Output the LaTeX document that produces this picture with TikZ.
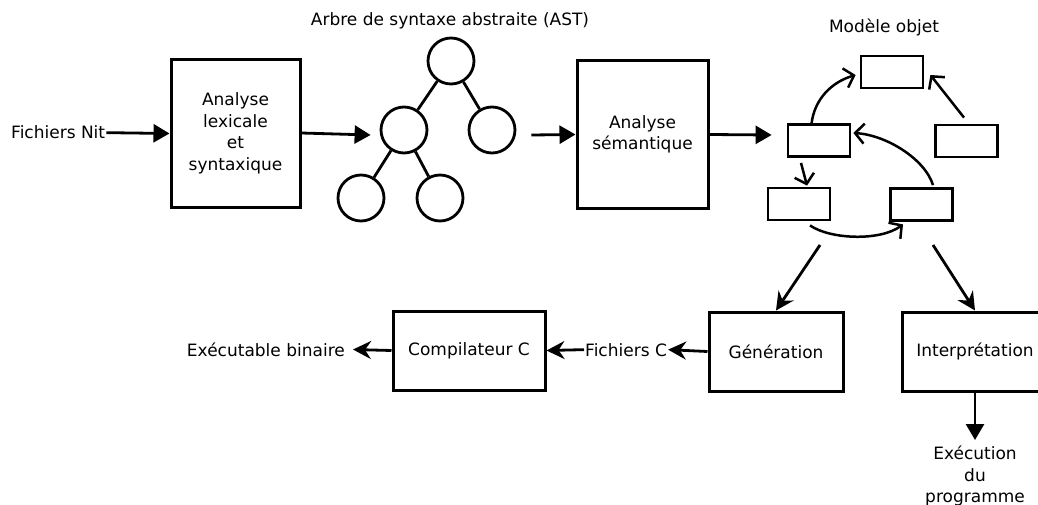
\documentclass[tikz,border=0pt]{standalone}
\usepackage{fontspec}
\setmainfont{DejaVu Sans}
\usetikzlibrary{arrows.meta,calc}
\begin{document}
\begin{tikzpicture}[x=1pt,y=-1pt,
  every node/.style={font=\fontsize{17}{21.5}\selectfont},
  box/.style={draw, line width=3pt, inner sep=0pt, align=center, minimum height=79pt},
  mbox/.style={draw, line width=2.8pt, minimum width=62pt, minimum height=32pt, inner sep=0pt},
  ast/.style={circle, draw, line width=2.8pt, minimum size=46pt, inner sep=0pt},
  lbl/.style={inner sep=1pt},
  edge/.style={line width=2.8pt},
  flow/.style={line width=2.8pt, -{Triangle[length=16pt,width=18pt]}},
  sflow/.style={line width=2.8pt, -{Stealth[length=18pt,width=18pt,inset=6pt]}},
  oflow/.style={line width=2.5pt, -{Straight Barb[length=9pt,width=20pt]}}
]
\clip (0,0) rectangle (1038,505);
\useasboundingbox (0,0) rectangle (1038,505);

% first row
\node[lbl, anchor=base west] (fnit) at (10,139) {Fichiers Nit};
\node[box, minimum width=129pt, minimum height=147pt] (B1) at (235.5,133.5) {Analyse\\lexicale\\et\\syntaxique};
\node[lbl, anchor=base] (astt) at (450,26) {Arbre de syntaxe abstraite (AST)};
\node[ast] (R) at (451,61) {};
\node[ast] (LM) at (404,130) {};
\node[ast] (RM) at (492,130) {};
\node[ast] (LL) at (361,198) {};
\node[ast] (LR) at (440,198) {};
\node[box, minimum width=131pt, minimum height=147pt] (S) at (642.5,134.5) {Analyse\\sémantique};

% object model
\node[lbl, anchor=base] (mot) at (884,33) {Modèle objet};
\node[mbox] (T) at (892,72) {};
\node[mbox] (L) at (819,140.5) {};
\node[mbox] (Rt) at (966.5,141) {};
\node[mbox] (BL) at (799,204) {};
\node[mbox] (BR) at (921.5,204.5) {};
\coordinate (g0) at (820,245);
\coordinate (i0) at (933,245);

% second row
\node[box, minimum width=134pt] (G) at (776,351.5) {Génération};
\node[box, minimum width=146pt] (I) at (975,351.5) {Interprétation};
\node[box, minimum width=152pt] (C) at (469,350.5) {Compilateur C};
\node[lbl, anchor=base west] (fc) at (584,356) {Fichiers C};
\node[lbl, anchor=base east] (eb) at (346,356) {Exécutable binaire};
\node[inner sep=0pt, anchor=north, align=center] (ex) at (975,446) {Exécution\\du\\programme};

% connectors
\draw[flow] (fnit.east) -- (B1.west);
\draw[flow] ($(B1.east)+(0,-0.5)$) -- ($(LM.west)+(-9,5)$);
\draw[edge] (R) -- (LM);
\draw[edge] (R) -- (RM);
\draw[edge] (LM) -- (LL);
\draw[edge] (LM) -- (LR);
\draw[flow] ($(RM.east)+(15,5)$) -- (S.west);
\draw[flow] (S.east) -- ($(L.west)+(-15,-5.5)$);

\draw[oflow] (L.113) .. controls +(3,-24) and +(-24,7) .. ($(T.west)+(-4,3)$);
\draw[oflow] ($(Rt.north)+(-2.5,-6)$) -- ($(T.east)+(6,3)$);
\draw[oflow] ($(BR.north)+(11.5,-2)$) .. controls +(-8,-26) and +(33,2) .. ($(L.east)+(2,-7.5)$);
\draw[oflow] ($(L.south)+(-18,5)$) -- ($(BL.north)+(8,-1)$);
\draw[oflow] ($(BL.south)+(11,4)$) .. controls +(20,14) and +(-23,17) .. ($(BR.south)+(-18.5,2.5)$);

\draw[sflow] (g0) -- (G.north);
\draw[sflow] (i0) -- (I.north);
\draw[sflow] (G.west) -- (fc.east);
\draw[sflow] (fc.west) -- (C.east);
\draw[sflow, shorten >=7pt] (C.west) -- (eb.east);
\draw[flow, shorten >=6pt] (I.south) -- (ex.north);
\end{tikzpicture}
\end{document}
